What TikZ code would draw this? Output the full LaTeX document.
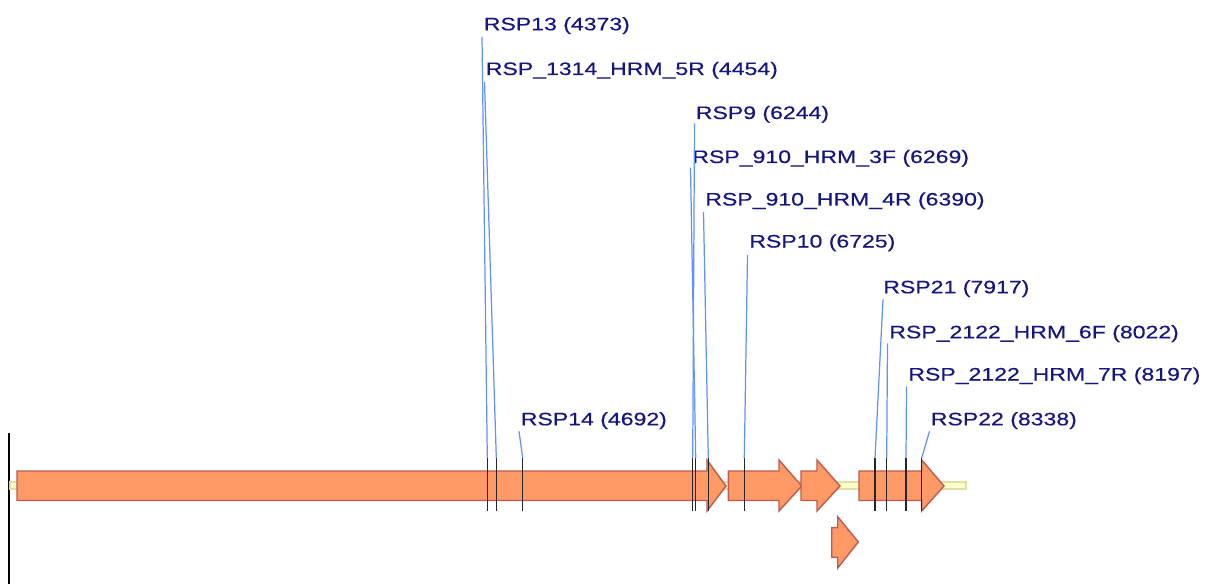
\documentclass[tikz,border=0pt]{standalone}
\usepackage{fontspec}
\newfontfamily\lblfont[FakeStretch=1.28,FakeBold=0.4]{Liberation Sans}
\usepackage{tikz}

\definecolor{genefill}{RGB}{255,153,102}
\definecolor{genedraw}{RGB}{188,92,80}
\definecolor{bbfill}{RGB}{255,255,204}
\definecolor{bbdraw}{RGB}{222,222,165}
\definecolor{txtblue}{RGB}{22,22,128}
\definecolor{leadblue}{RGB}{95,145,255}

\begin{document}
\begin{tikzpicture}[x=0.02cm, y=-0.02cm,
  gene/.style={draw=genedraw, fill=genefill, line width=0.8pt, line join=miter},
  bb/.style={draw=bbdraw, fill=bbfill, line width=0.6pt},
  lbl/.style={font=\lblfont\fontsize{10.25}{12}\selectfont, text=txtblue, inner sep=0pt, anchor=base west},
  lead/.style={draw=leadblue, line width=0.7pt},
  site/.style={draw=black!85, line width=0.75pt}
]
\useasboundingbox (0,0) rectangle (1207,584);
% ruler edge and backbone
\draw[line width=1.1pt] (9,433) -- (9,584);
\draw[bb] (10,482) rectangle (966,489);
% genes on the forward strand
\draw[gene] (17,471) -- (707,471) -- (707,460) -- (726,486) -- (707,511) -- (707,500.5) -- (17,500.5) -- cycle;
\draw[gene] (728.3,471) -- (779,471) -- (779,460) -- (801.7,486) -- (779,511) -- (779,500.5) -- (728.3,500.5) -- cycle;
\draw[gene] (801,471) -- (817,471) -- (817,460) -- (840,486) -- (817,511) -- (817,500.5) -- (801,500.5) -- cycle;
\draw[gene] (859,471) -- (921.7,471) -- (921.7,460) -- (944,486) -- (921.7,511) -- (921.7,500.5) -- (859,500.5) -- cycle;
% small gene on the second row
\draw[gene] (831.7,527.7) -- (837.7,527.7) -- (837.7,516.7) -- (858.3,542) -- (837.7,568) -- (837.7,557.3) -- (831.7,557.3) -- cycle;

% primer labels
\node[lbl] (p13) at (483.5,30.3) {RSP13 (4373)};
\node[lbl] (p5r) at (485.5,75) {RSP\_1314\_HRM\_5R (4454)};
\node[lbl] (p9) at (695.5,119) {RSP9 (6244)};
\node[lbl] (p3f) at (692,163) {RSP\_910\_HRM\_3F (6269)};
\node[lbl] (p4r) at (705,205.5) {RSP\_910\_HRM\_4R (6390)};
\node[lbl] (p10) at (749,247.5) {RSP10 (6725)};
\node[lbl] (p21) at (883,293.3) {RSP21 (7917)};
\node[lbl] (p6f) at (889,338.3) {RSP\_2122\_HRM\_6F (8022)};
\node[lbl] (p7r) at (908,380.5) {RSP\_2122\_HRM\_7R (8197)};
\node[lbl] (p22) at (930.5,425.3) {RSP22 (8338)};
\node[lbl] (p14) at (520.5,425.3) {RSP14 (4692)};

% primer sites on the sequence
\coordinate (m13) at (487.3,458);
\coordinate (m5r) at (496.3,458);
\coordinate (m14) at (522.7,458);
\coordinate (m9) at (692.7,458);
\coordinate (m3f) at (695.7,458);
\coordinate (m4r) at (708.3,458);
\coordinate (m10) at (744.3,458);
\coordinate (m21) at (875,458);
\coordinate (m6f) at (886.7,458);
\coordinate (m7r) at (906,458);
\coordinate (m22) at (921.7,458);

\foreach \m in {m13,m5r,m14,m9,m3f,m4r,m10,m21,m6f,m7r,m22}
  \draw[site] (\m) -- ++(0,53);

% leaders from labels down to their sites
\draw[lead] ([shift={(-1.5,6.5)}]p13.base west) -- (m13);
\draw[lead] ([shift={(-1,7)}]p5r.base west) -- (m5r);
\draw[lead] ([shift={(-1,4.5)}]p9.base west) -- (m9);
\draw[lead] ([shift={(-1.5,5)}]p3f.base west) -- (m3f);
\draw[lead] ([shift={(-1.5,6.5)}]p4r.base west) -- (m4r);
\draw[lead] ([shift={(-1.5,7.5)}]p10.base west) -- (m10);
\draw[lead] ([shift={(0,6)}]p21.base west) -- (m21);
\draw[lead] ([shift={(-1.5,5)}]p6f.base west) -- (m6f);
\draw[lead] ([shift={(-1.5,6)}]p7r.base west) -- (m7r);
\draw[lead] ([shift={(-1,6)}]p22.base west) -- (m22);
\draw[lead] ([shift={(-1.5,6)}]p14.base west) -- (m14);
\end{tikzpicture}
\end{document}
